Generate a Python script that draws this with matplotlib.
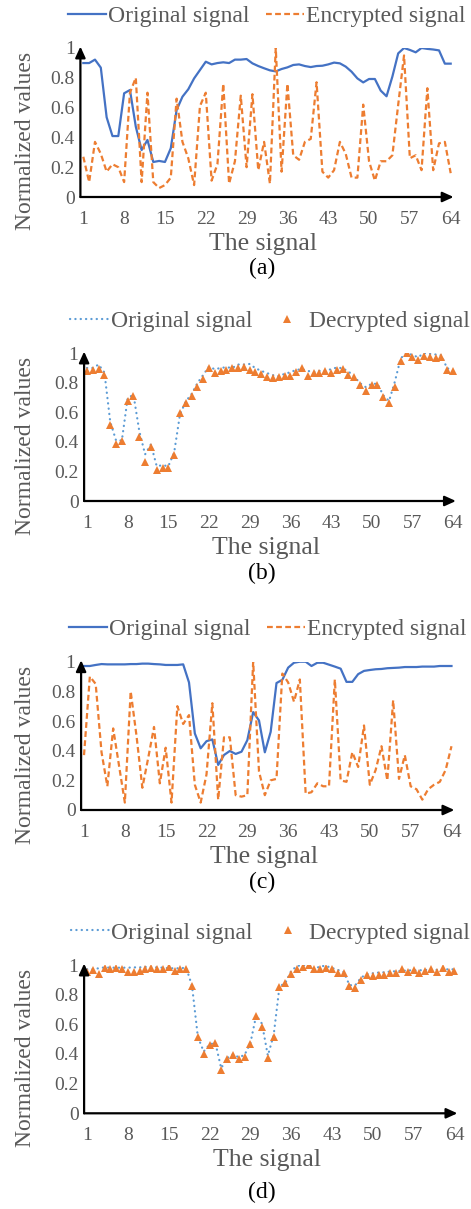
import numpy as np
import matplotlib.pyplot as plt
from matplotlib.lines import Line2D

plt.rcParams['font.family'] = ['Liberation Serif', 'DejaVu Serif']

# sample index
idx = np.arange(1, 65)
xtick_vals = [1, 8, 15, 22, 29, 36, 43, 50, 57, 64]
ytick_vals = [0, 0.2, 0.4, 0.6, 0.8, 1]
ytick_labels = ['0', '0.2', '0.4', '0.6', '0.8', '1']

# signal 1 (panels a, b)
orig_1 = [0.899, 0.899, 0.922, 0.868, 0.535, 0.409, 0.409, 0.696, 0.718, 0.472,
          0.315, 0.383, 0.235, 0.242, 0.235, 0.327, 0.584, 0.673, 0.723, 0.796,
          0.852, 0.908, 0.890, 0.899, 0.904, 0.899, 0.922, 0.922, 0.926, 0.897,
          0.879, 0.864, 0.850, 0.843, 0.859, 0.870, 0.886, 0.890, 0.879, 0.872,
          0.879, 0.881, 0.890, 0.902, 0.897, 0.875, 0.841, 0.796, 0.769, 0.792,
          0.792, 0.714, 0.676, 0.808, 0.964, 1.000, 0.987, 0.971, 1.000, 0.994,
          0.990, 0.984, 0.895, 0.895]
enc_1 = [0.27, 0.10, 0.37, 0.29, 0.17, 0.22, 0.20, 0.10, 0.70, 0.80,
         0.10, 0.70, 0.10, 0.06, 0.08, 0.13, 0.66, 0.37, 0.26, 0.08,
         0.61, 0.70, 0.11, 0.22, 0.76, 0.09, 0.24, 0.68, 0.20, 0.69,
         0.18, 0.37, 0.09, 1.00, 0.17, 0.76, 0.28, 0.25, 0.37, 0.39,
         0.77, 0.17, 0.13, 0.18, 0.37, 0.29, 0.13, 0.13, 0.62, 0.24,
         0.11, 0.24, 0.24, 0.28, 0.62, 0.95, 0.26, 0.28, 0.18, 0.73,
         0.18, 0.36, 0.37, 0.16]
dec_1 = [0.878, 0.883, 0.890, 0.851, 0.514, 0.383, 0.403, 0.678, 0.712, 0.435,
         0.266, 0.365, 0.207, 0.223, 0.223, 0.309, 0.592, 0.662, 0.709, 0.773,
         0.822, 0.899, 0.863, 0.876, 0.883, 0.896, 0.900, 0.903, 0.883, 0.874,
         0.858, 0.836, 0.829, 0.836, 0.847, 0.845, 0.874, 0.896, 0.847, 0.865,
         0.865, 0.876, 0.867, 0.885, 0.890, 0.851, 0.838, 0.782, 0.745, 0.782,
         0.784, 0.705, 0.660, 0.768, 0.948, 1.000, 0.975, 0.955, 0.980, 0.973,
         0.968, 0.975, 0.883, 0.880]

# signal 2 (panels c, d)
orig_2 = [0.971, 0.971, 0.978, 0.984, 0.982, 0.982, 0.982, 0.982, 0.984, 0.984,
          0.987, 0.987, 0.984, 0.982, 0.978, 0.978, 0.978, 0.982, 0.860, 0.516,
          0.416, 0.464, 0.476, 0.304, 0.371, 0.398, 0.378, 0.393, 0.471, 0.660,
          0.604, 0.389, 0.527, 0.856, 0.878, 0.960, 0.993, 1.000, 1.000, 0.971,
          0.993, 0.993, 0.980, 0.967, 0.953, 0.864, 0.864, 0.916, 0.938, 0.944,
          0.949, 0.951, 0.956, 0.958, 0.960, 0.964, 0.964, 0.964, 0.967, 0.967,
          0.967, 0.971, 0.971, 0.971]
enc_2 = [0.37, 0.90, 0.85, 0.39, 0.16, 0.55, 0.30, 0.05, 0.80, 0.50,
         0.15, 0.35, 0.56, 0.18, 0.42, 0.05, 0.70, 0.58, 0.64, 0.17,
         0.05, 0.24, 0.72, 0.07, 0.49, 0.49, 0.10, 0.09, 0.10, 1.00,
         0.26, 0.10, 0.20, 0.21, 0.92, 0.86, 0.73, 0.88, 0.11, 0.12,
         0.18, 0.16, 0.16, 0.88, 0.20, 0.19, 0.39, 0.29, 0.57, 0.17,
         0.27, 0.43, 0.20, 0.74, 0.21, 0.37, 0.16, 0.14, 0.07, 0.14,
         0.17, 0.19, 0.27, 0.43]
dec_2 = [0.950, 0.966, 0.940, 0.980, 0.970, 0.980, 0.970, 0.950, 0.955, 0.962,
         0.970, 0.980, 0.973, 0.973, 0.984, 0.962, 0.973, 0.973, 0.860, 0.515,
         0.398, 0.463, 0.477, 0.291, 0.365, 0.391, 0.369, 0.380, 0.470, 0.653,
         0.581, 0.374, 0.515, 0.850, 0.878, 0.940, 0.973, 0.984, 1.000, 0.970,
         0.970, 0.978, 0.973, 0.944, 0.944, 0.860, 0.845, 0.900, 0.933, 0.928,
         0.935, 0.935, 0.946, 0.946, 0.973, 0.955, 0.966, 0.944, 0.962, 0.973,
         0.955, 0.978, 0.950, 0.962]

BLUE = '#4472C4'
LBLUE = '#5B9BD5'
ORANGE = '#ED7D31'
GRAY = '#595959'

W, H = 471, 1209
fig = plt.figure(figsize=(W / 100, H / 100), dpi=100)


def panel(left, right, top, bottom):
    ax = fig.add_axes([left / W, 1 - bottom / H, (right - left) / W, (bottom - top) / H])
    ax.set_xlim(0.5, 64.5)
    ax.set_ylim(0, 1)
    for s in ax.spines.values():
        s.set_visible(False)
    ax.set_xticks(xtick_vals)
    ax.set_yticks(ytick_vals)
    ax.set_yticklabels(ytick_labels)
    ax.tick_params(axis='both', length=0, labelsize=14, labelcolor=GRAY)
    ax.tick_params(axis='x', pad=10)
    ax.tick_params(axis='y', pad=4)
    arrow = dict(arrowstyle='-|>,head_length=0.55,head_width=0.25', color='black',
                 lw=1.6, shrinkA=0, shrinkB=0, mutation_scale=12)
    ax.annotate('', xy=(1.0, 0), xytext=(0, 0), xycoords='axes fraction',
                arrowprops=arrow, annotation_clip=False)
    ax.annotate('', xy=(0, 1.01), xytext=(0, 0), xycoords='axes fraction',
                arrowprops=arrow, annotation_clip=False)
    # axis titles
    cx = (left + right) / 2 - 4
    fig.text(cx / W, 1 - (bottom + 47) / H, 'The signal', ha='center', va='center',
             fontsize=18.5, color=GRAY)
    fig.text(26 / W, 1 - (top + 93) / H, 'Normalized values', rotation=90,
             ha='center', va='center', fontsize=17, color=GRAY)
    return ax


def legend(ax, handles, labels):
    h = (ax.get_position().height * H)
    ax.legend(handles, labels, loc='center', bbox_to_anchor=(0.5, 1 + 32 / h),
              ncol=2, frameon=False, fontsize=17, handlelength=1.6,
              handletextpad=0.1, columnspacing=0.7, labelcolor=GRAY,
              borderaxespad=0, borderpad=0)


dash = (0, (2.6, 1.5))
dots = (0, (0.1, 2.3))

# (a)
ax = panel(80.4, 453.6, 48, 197)
ax.plot(idx, orig_1, color=BLUE, lw=1.6)
ax.plot(idx, enc_1, color=ORANGE, lw=1.6, linestyle=dash)
legend(ax, [Line2D([], [], color=BLUE, lw=1.6),
            Line2D([], [], color=ORANGE, lw=1.6, linestyle=dash)],
       ['Original signal', 'Encrypted signal'])
fig.text(262 / W, 1 - 268 / H, '(a)', ha='center', va='center', fontsize=17)

# (b)
ax = panel(84.1, 455.9, 353, 501)
ax.plot(idx, orig_1, color=LBLUE, lw=1.6, linestyle=dots, dash_capstyle='round')
ax.plot(idx, dec_1, color=ORANGE, linestyle='none', marker='^', ms=6, mew=0)
legend(ax, [Line2D([], [], color=LBLUE, lw=1.6, linestyle=dots, dash_capstyle='round'),
            Line2D([], [], color=ORANGE, linestyle='none', marker='^', ms=6, mew=0)],
       ['Original signal', 'Decrypted signal'])
fig.text(262 / W, 1 - 573 / H, '(b)', ha='center', va='center', fontsize=17)

# (c)
ax = panel(81.1, 454.4, 661.7, 810)
ax.plot(idx, orig_2, color=BLUE, lw=1.6)
ax.plot(idx, enc_2, color=ORANGE, lw=1.6, linestyle=dash)
legend(ax, [Line2D([], [], color=BLUE, lw=1.6),
            Line2D([], [], color=ORANGE, lw=1.6, linestyle=dash)],
       ['Original signal', 'Encrypted signal'])
fig.text(262 / W, 1 - 882 / H, '(c)', ha='center', va='center', fontsize=17)

# (d)
ax = panel(84.1, 457.4, 965, 1113.3)
ax.plot(idx, orig_2, color=LBLUE, lw=1.6, linestyle=dots, dash_capstyle='round')
ax.plot(idx, dec_2, color=ORANGE, linestyle='none', marker='^', ms=6, mew=0)
legend(ax, [Line2D([], [], color=LBLUE, lw=1.6, linestyle=dots, dash_capstyle='round'),
            Line2D([], [], color=ORANGE, linestyle='none', marker='^', ms=6, mew=0)],
       ['Original signal', 'Decrypted signal'])
fig.text(262 / W, 1 - 1192 / H, '(d)', ha='center', va='center', fontsize=17)

fig.savefig('out.png', dpi=100)
